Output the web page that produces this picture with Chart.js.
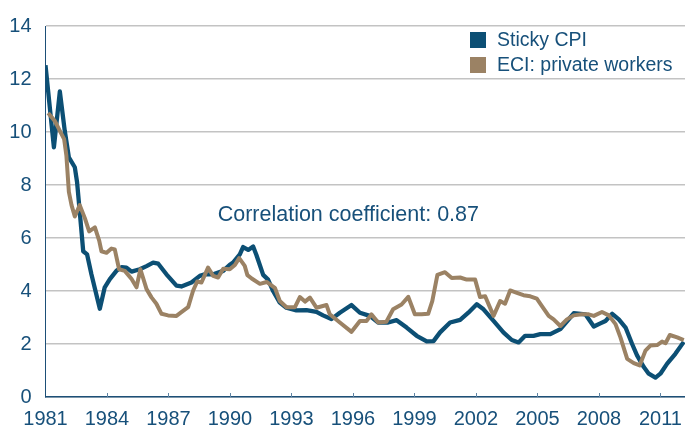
<!DOCTYPE html>
<html>
<head>
<meta charset="utf-8">
<script src="https://cdn.jsdelivr.net/npm/chart.js@4"></script>
<style>
  html, body { margin: 0; padding: 0; background: #ffffff; }
  #wrap { width: 685px; height: 431px; }
</style>
</head>
<body>
<div id="wrap"><canvas id="c" width="685" height="431"></canvas></div>
<script>
// ---- Data ----
const stickyDates = [1981.00,1981.41,1981.70,1981.94,1982.14,1982.43,1982.54,1982.67,1982.84,1983.03,1983.24,1983.65,1983.89,1984.14,1984.46,1984.71,1984.95,1985.20,1985.60,1985.93,1986.25,1986.50,1986.90,1987.39,1987.63,1988.12,1988.53,1988.77,1989.18,1989.67,1989.99,1990.15,1990.48,1990.64,1990.89,1991.13,1991.29,1991.62,1991.86,1992.11,1992.43,1992.75,1993.24,1993.73,1994.22,1994.54,1994.95,1995.36,1995.93,1996.34,1996.82,1997.23,1997.72,1998.13,1998.62,1999.11,1999.60,1999.93,2000.25,2000.74,2001.23,2001.63,2002.04,2002.37,2002.86,2003.34,2003.75,2004.08,2004.40,2004.81,2005.14,2005.63,2006.12,2006.60,2006.77,2007.34,2007.75,2008.07,2008.32,2008.65,2008.97,2009.30,2009.62,2009.86,2010.19,2010.43,2010.76,2011.00,2011.33,2011.73,2012.14];
const stickyValues = [12.52,9.42,11.53,10.04,9.04,8.67,8.11,7.00,5.50,5.38,4.63,3.33,4.14,4.45,4.76,4.90,4.88,4.73,4.82,4.94,5.07,5.03,4.63,4.20,4.17,4.32,4.57,4.63,4.63,4.76,4.99,5.07,5.38,5.66,5.55,5.68,5.36,4.61,4.43,3.99,3.56,3.37,3.27,3.28,3.21,3.08,2.94,3.18,3.47,3.18,3.06,2.81,2.81,2.90,2.62,2.31,2.10,2.11,2.44,2.81,2.91,3.18,3.50,3.31,2.87,2.44,2.15,2.06,2.31,2.31,2.37,2.37,2.56,3.00,3.16,3.12,2.66,2.78,2.87,3.14,2.93,2.62,2.00,1.57,1.13,0.88,0.73,0.88,1.26,1.63,2.08];

const eciDates = [1981.13,1981.46,1981.70,1981.91,1982.02,1982.14,1982.27,1982.43,1982.67,1982.92,1983.13,1983.41,1983.62,1983.73,1983.98,1984.22,1984.38,1984.59,1984.87,1985.20,1985.44,1985.63,1985.93,1986.17,1986.41,1986.66,1986.98,1987.39,1987.63,1987.96,1988.20,1988.40,1988.61,1988.93,1989.18,1989.42,1989.67,1989.99,1990.24,1990.45,1990.72,1990.85,1991.06,1991.46,1991.79,1992.19,1992.43,1992.76,1993.17,1993.41,1993.66,1993.90,1994.22,1994.71,1994.87,1995.36,1995.93,1996.34,1996.66,1996.90,1997.23,1997.63,1997.96,1998.37,1998.70,1999.02,1999.35,1999.67,1999.87,2000.12,2000.49,2000.82,2001.23,2001.55,2001.96,2002.20,2002.45,2002.86,2003.18,2003.42,2003.67,2004.00,2004.32,2004.65,2004.97,2005.22,2005.55,2005.79,2006.12,2006.44,2006.77,2007.17,2007.50,2007.75,2008.15,2008.48,2008.81,2009.05,2009.38,2009.70,2009.99,2010.27,2010.51,2010.84,2011.08,2011.25,2011.46,2011.82,2012.14];
const eciValues = [10.72,10.41,10.04,9.73,9.10,7.74,7.24,6.81,7.24,6.75,6.25,6.40,5.90,5.50,5.44,5.60,5.57,4.82,4.76,4.45,4.14,4.82,4.07,3.76,3.52,3.14,3.08,3.06,3.20,3.39,4.01,4.36,4.32,4.88,4.57,4.51,4.84,4.82,4.98,5.24,4.95,4.60,4.47,4.27,4.34,4.12,3.62,3.39,3.39,3.77,3.60,3.75,3.37,3.47,3.12,2.81,2.46,2.87,2.87,3.12,2.81,2.84,3.31,3.49,3.78,3.12,3.12,3.14,3.62,4.61,4.71,4.49,4.51,4.43,4.43,3.77,3.80,3.06,3.62,3.52,4.02,3.93,3.84,3.80,3.71,3.43,3.06,2.93,2.68,2.93,3.08,3.12,3.12,3.06,3.21,3.08,2.75,2.25,1.44,1.28,1.19,1.75,1.94,1.96,2.09,2.03,2.34,2.25,2.15];

const xTickYears = [1981,1984,1987,1990,1993,1996,1999,2002,2005,2008,2011];
const yTicks = [0,2,4,6,8,10,12,14];
const seriesLabels = ['Sticky CPI', 'ECI: private workers'];
const noteText = 'Correlation coefficient: 0.87';
const notePos = { x: 1989.4, y: 6.87 };

// ---- Styles ----
const TEXT = '#17507a';
const BLUE = '#0c4f74';
const BROWN = '#9b8264';
const FONT = '"Liberation Sans", Arial, sans-serif';

const toPts = (xs, ys) => xs.map((x, i) => ({ x: x, y: ys[i] }));

const overlay = {
  id: 'overlay',
  beforeDatasetsDraw(chart) {
    const { ctx, scales: { x, y } } = chart;
    ctx.save();
    ctx.strokeStyle = '#5f84a3';
    ctx.lineWidth = 1;
    const yb = y.getPixelForValue(0);
    xTickYears.forEach(v => {
      if (v === xTickYears[0]) return;
      const px = Math.round(x.getPixelForValue(v)) + 0.5;
      ctx.beginPath();
      ctx.moveTo(px, yb);
      ctx.lineTo(px, yb - 4);
      ctx.stroke();
    });
    ctx.restore();
  },
  afterDraw(chart) {
    const { ctx, scales: { x, y } } = chart;
    ctx.save();
    // annotation
    ctx.fillStyle = TEXT;
    ctx.font = '21.5px ' + FONT;
    ctx.textAlign = 'left';
    ctx.textBaseline = 'middle';
    ctx.fillText(noteText, x.getPixelForValue(notePos.x), y.getPixelForValue(notePos.y));
    // legend
    const colors = chart.data.datasets.map(d => d.borderColor);
    const lx = 470, ly = 32, step = 25, box = 16;
    ctx.font = '19.5px ' + FONT;
    chart.data.datasets.forEach((d, i) => {
      ctx.fillStyle = colors[i];
      ctx.fillRect(lx, ly + i * step, box, box);
      ctx.fillStyle = TEXT;
      ctx.fillText(d.label, lx + 27, ly + i * step + box / 2 + 1);
    });
    ctx.restore();
  }
};

new Chart(document.getElementById('c'), {
  type: 'line',
  data: {
    datasets: [
      { label: seriesLabels[0], data: toPts(stickyDates, stickyValues), borderColor: BLUE, backgroundColor: BLUE, borderWidth: 4.3, pointRadius: 0, tension: 0, borderJoinStyle: 'round', order: 2 },
      { label: seriesLabels[1], data: toPts(eciDates, eciValues), borderColor: BROWN, backgroundColor: BROWN, borderWidth: 4, pointRadius: 0, tension: 0, borderJoinStyle: 'round', order: 1 }
    ]
  },
  options: {
    responsive: false,
    devicePixelRatio: 1,
    animation: false,
    layout: { padding: { top: 22, right: 0, bottom: 0, left: 0 } },
    plugins: { legend: { display: false }, tooltip: { enabled: false } },
    scales: {
      x: {
        type: 'linear',
        min: 1981,
        max: 2012.2,
        afterBuildTicks(s) { s.ticks = xTickYears.map(v => ({ value: v })); },
        afterFit(s) { s.height = 34; s.paddingRight = 0; s.paddingLeft = 0; },
        grid: { display: false, drawTicks: false },
        border: { display: true, color: '#1d4f77', width: 1.5 },
        ticks: { color: TEXT, font: { family: FONT, size: 20 }, padding: 10, maxRotation: 0, autoSkip: false, includeBounds: false, callback: v => String(v) }
      },
      y: {
        min: 0,
        max: 14,
        afterBuildTicks(s) { s.ticks = yTicks.map(v => ({ value: v })); },
        afterFit(s) { s.width = 45.5; },
        grid: { color: '#c3c3c3', lineWidth: 1.5, drawTicks: false },
        border: { display: true, color: '#1d4f77', width: 1 },
        ticks: { color: TEXT, font: { family: FONT, size: 20 }, padding: 14, callback: v => String(v) }
      }
    }
  },
  plugins: [overlay]
});
</script>
</body>
</html>
